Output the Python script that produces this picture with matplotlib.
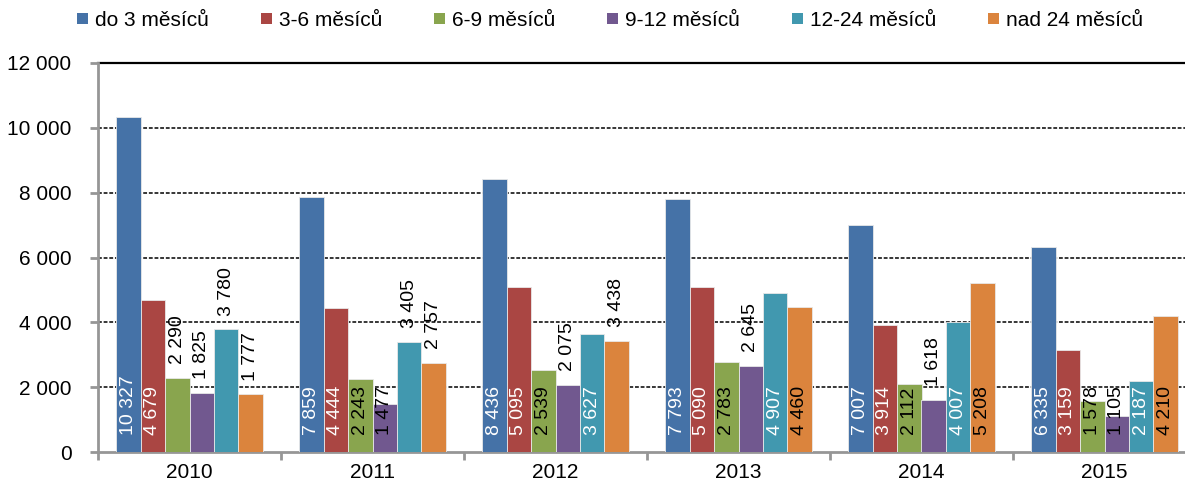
import numpy as np
import matplotlib.pyplot as plt
from matplotlib.patches import Patch
from matplotlib.ticker import FuncFormatter, MultipleLocator

plt.rcParams['font.family'] = ['Liberation Sans', 'DejaVu Sans']

# data
years = ['2010', '2011', '2012', '2013', '2014', '2015']
series = ['do 3 měsíců', '3-6 měsíců', '6-9 měsíců', '9-12 měsíců', '12-24 měsíců', 'nad 24 měsíců']
do3 = [10327, 7859, 8436, 7793, 7007, 6335]
m3_6 = [4679, 4444, 5095, 5090, 3914, 3159]
m6_9 = [2290, 2243, 2539, 2783, 2112, 1578]
m9_12 = [1825, 1477, 2075, 2645, 1618, 1105]
m12_24 = [3780, 3405, 3627, 4907, 4007, 2187]
nad24 = [1777, 2757, 3438, 4460, 5208, 4210]
values = [do3, m3_6, m6_9, m9_12, m12_24, nad24]

# where each label sits: 'i' = inside at the base, 'o' = above the bar
label_pos = [
    ['i', 'i', 'i', 'i', 'i', 'i'],
    ['i', 'i', 'i', 'i', 'i', 'i'],
    ['o', 'i', 'i', 'i', 'i', 'i'],
    ['o', 'i', 'o', 'o', 'o', 'i'],
    ['o', 'o', 'i', 'i', 'i', 'i'],
    ['o', 'o', 'o', 'i', 'i', 'i'],
]

colors = ['#4572A7', '#AA4643', '#89A54E', '#71588F', '#4198AF', '#DB843D']
inside_text = ['white', 'white', 'black', 'black', 'white', 'black']


def fmt(v, pos=None):
    return f'{int(v):,}'.replace(',', ' ')


fig = plt.figure(figsize=(11.85, 4.86), dpi=100)
ax = fig.add_axes([98 / 1185, 34 / 486, 1098 / 1185, 389 / 486])

x = np.arange(len(years))
w = 0.8 / len(series)
for i, (vals, c) in enumerate(zip(values, colors)):
    xs = x - 0.4 + w * (i + 0.5)
    ax.bar(xs, vals, width=w, color=c, edgecolor='#e8e8e8', linewidth=0.6, zorder=3)
    for xx, v, p in zip(xs, vals, label_pos[i]):
        if p == 'i':
            ax.annotate(fmt(v), (xx, 0), xytext=(0, 12), textcoords='offset points',
                        rotation=90, ha='center', va='bottom', fontsize=14,
                        color=inside_text[i], zorder=4)
        else:
            ax.annotate(fmt(v), (xx, v), xytext=(0, 10), textcoords='offset points',
                        rotation=90, ha='center', va='bottom', fontsize=14,
                        color='black', zorder=4)

ax.set_xlim(-0.5, len(years) - 0.5)
ax.set_ylim(0, 12000)
ax.yaxis.set_major_locator(MultipleLocator(2000))
ax.yaxis.set_major_formatter(FuncFormatter(fmt))
ax.set_xticks(x)
ax.set_xticklabels(years)
ax.set_xticks(np.arange(len(years) + 1) - 0.5, minor=True)

for yv in range(2000, 12000, 2000):
    ax.axhline(yv, color='black', linestyle=(0, (2.5, 1.2)), linewidth=1.1, zorder=1)
ax.axhline(12000, color='black', linewidth=1.6, zorder=1, clip_on=False)

for s in ['top', 'right']:
    ax.spines[s].set_visible(False)
for s in ['left', 'bottom']:
    ax.spines[s].set_color('#969696')
    ax.spines[s].set_linewidth(2)

ax.tick_params(axis='y', direction='out', length=6, width=2, color='#969696',
               labelsize=15, pad=13)
ax.tick_params(axis='x', which='major', length=0, labelsize=15, pad=8)
ax.tick_params(axis='x', which='minor', direction='out', length=6, width=2, color='#969696')

handles = [Patch(facecolor=c, edgecolor='none') for c in colors]
fig.legend(handles, series, loc='center', bbox_to_anchor=(0.515, 0.958), ncol=6,
           frameon=False, fontsize=15, handlelength=0.5, handleheight=0.5,
           handletextpad=0.35, columnspacing=2.5)

fig.savefig('out.png', dpi=100)
